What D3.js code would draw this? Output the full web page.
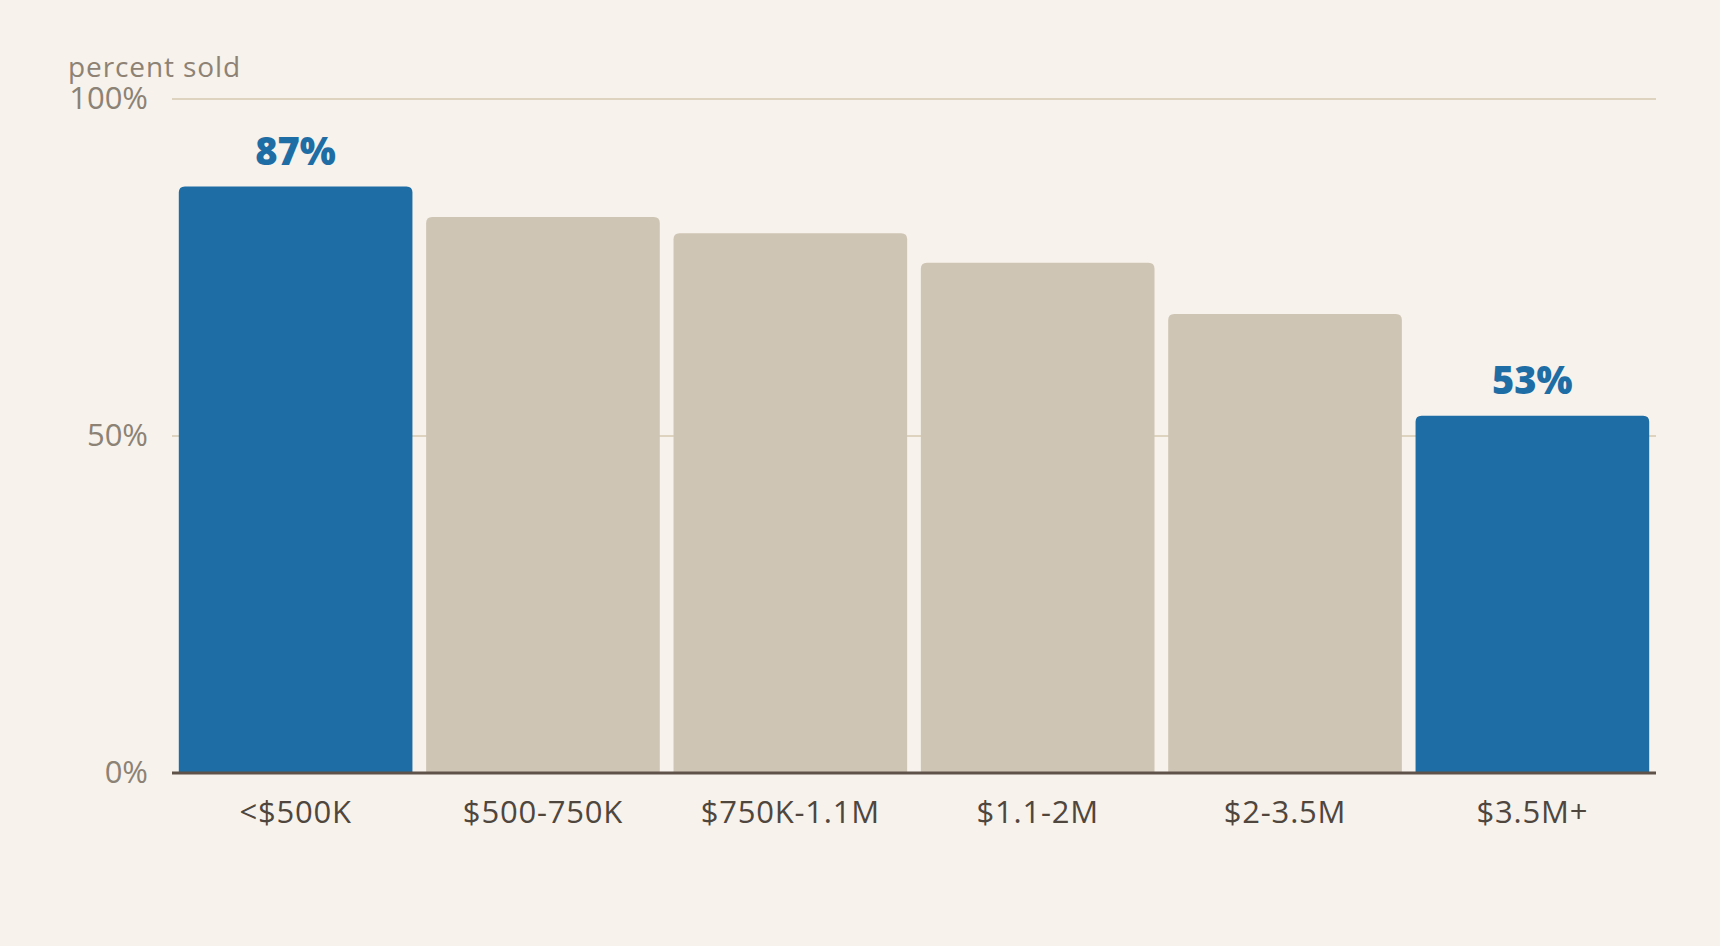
<!DOCTYPE html>
<html>
<head>
<meta charset="utf-8">
<script src="https://cdn.jsdelivr.net/npm/d3@7"></script>
<style>
  body { margin: 0; background: #f7f2ec; }
  svg { display: block; }
</style>
</head>
<body>
<script>
const WIDTH = 1720;
const HEIGHT = 946;

// data
const categories = ["<$500K", "$500-750K", "$750K-1.1M", "$1.1-2M", "$2-3.5M", "$3.5M+"];
const percentSold = [87, 82.5, 80.1, 75.7, 68.1, 53];
const highlighted = ["<$500K", "$3.5M+"];
const yTicks = [0, 50, 100];

const BLUE = "#1e6ea5";
const BEIGE = "#cfc5b4";
const FONT = "'Open Sans', sans-serif";

function setup(){
    let svg = d3.select("body")
        .append("svg")
        .attr("width", WIDTH)
        .attr("height", HEIGHT)
        .style("background", "#f7f2ec");

    let data = categories.map((c, i) => ({cat: c, value: percentSold[i]}));

    let x = d3.scaleBand()
        .domain(categories)
        .range([172, 1656])
        .paddingInner(0.0554)
        .paddingOuter(0.0275);

    let y = d3.scaleLinear()
        .domain([0, 100])
        .range([773, 99]);

    // gridlines (0 gets the baseline instead)
    svg.selectAll(".grid")
        .data(yTicks.filter(d => d > 0))
        .enter()
        .append("line")
        .attr("class", "grid")
        .attr("x1", 172)
        .attr("x2", 1656)
        .attr("y1", d => y(d))
        .attr("y2", d => y(d))
        .style("stroke", "#ddd3bf")
        .style("stroke-width", 2);

    // bars with rounded top corners
    let r = 6;
    svg.selectAll(".bar")
        .data(data)
        .enter()
        .append("path")
        .attr("class", "bar")
        .attr("d", d => {
            let x0 = x(d.cat), x1 = x0 + x.bandwidth();
            let y0 = y(d.value), y1 = y(0);
            return `M${x0},${y1}V${y0 + r}Q${x0},${y0} ${x0 + r},${y0}H${x1 - r}Q${x1},${y0} ${x1},${y0 + r}V${y1}Z`;
        })
        .style("fill", d => highlighted.includes(d.cat) ? BLUE : BEIGE);

    // value labels on highlighted bars
    svg.selectAll(".value")
        .data(data.filter(d => highlighted.includes(d.cat)))
        .enter()
        .append("text")
        .attr("class", "value")
        .attr("x", d => x(d.cat) + x.bandwidth() / 2)
        .attr("y", d => y(d.value) - 22)
        .attr("text-anchor", "middle")
        .style("font-family", FONT)
        .style("font-weight", 800)
        .style("font-size", "38px")
        .style("fill", BLUE)
        .text(d => Math.round(d.value) + "%");

    // y axis labels
    let yAxis = svg.append("g")
        .attr("transform", "translate(172,0)")
        .call(d3.axisLeft(y).tickValues(yTicks).tickFormat(d => d + "%").tickSize(0).tickPadding(24));
    yAxis.select(".domain").remove();
    yAxis.selectAll("text")
        .style("font-family", FONT)
        .style("font-size", "31px")
        .style("fill", "#8c8275");

    // x axis
    let xAxis = svg.append("g")
        .attr("transform", "translate(0,773)")
        .call(d3.axisBottom(x).tickSize(0).tickPadding(28));
    xAxis.select(".domain").remove();
    xAxis.selectAll("text")
        .style("font-family", FONT)
        .style("font-size", "31px")
        .style("letter-spacing", "0.8px")
        .style("fill", "#4f463e");

    svg.append("line")
        .attr("x1", 172)
        .attr("x2", 1656)
        .attr("y1", y(0))
        .attr("y2", y(0))
        .style("stroke", "#5e5249")
        .style("stroke-width", 3);

    svg.append("text")
        .attr("x", 68)
        .attr("y", 77)
        .style("font-family", FONT)
        .style("font-size", "28px")
        .style("letter-spacing", "0.9px")
        .style("fill", "#8d8274")
        .text("percent sold");
}

window.addEventListener("load", setup);
</script>
</body>
</html>
